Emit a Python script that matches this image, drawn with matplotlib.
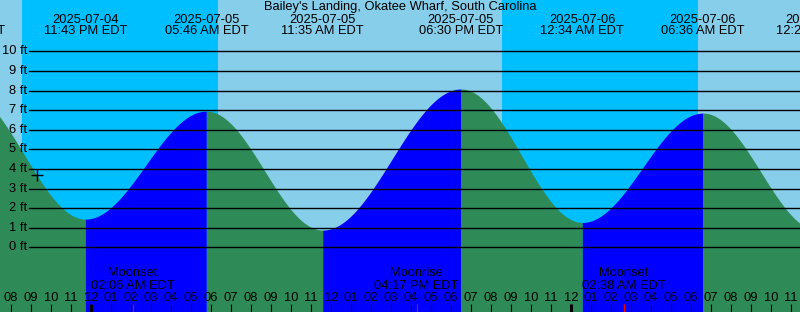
import numpy as np
import pandas as pd
import matplotlib
matplotlib.use("Agg")
import matplotlib.pyplot as plt
import matplotlib.transforms as mtransforms

plt.rcParams['font.family'] = ['Liberation Sans', 'DejaVu Sans']
FS = 9.3

title = "Bailey's Landing, Okatee Wharf, South Carolina"

# tide extremes (local time, EDT) and heights in ft
tide_times = ["2025-07-04 17:37", "2025-07-04 23:43", "2025-07-05 05:46",
              "2025-07-05 11:35", "2025-07-05 18:30", "2025-07-06 00:34",
              "2025-07-06 06:36", "2025-07-06 12:22"]
tide_heights = [8.0, 1.44, 6.95, 0.88, 8.08, 1.27, 6.85, 0.86]

# night periods (sunset, sunrise)
sunsets = ["2025-07-04 20:33", "2025-07-05 20:33"]
sunrises = ["2025-07-05 06:21", "2025-07-06 06:21"]

moon_names = ["Moonset", "Moonrise", "Moonset"]
moon_times = ["2025-07-05 02:06", "2025-07-05 16:17", "2025-07-06 02:38"]

now_time = "2025-07-04 21:18"

ft_levels = list(range(0, 11))

day_color = "#87CEEB"
night_color = "#00BFFF"
flood_color = "#0000FF"
ebb_color = "#2E8B57"

t0 = pd.Timestamp("2025-07-05 00:00")


def hours(s):
    return (pd.Timestamp(s) - t0) / pd.Timedelta(hours=1)


th = np.array([hours(s) for s in tide_times])
hh = np.array(tide_heights)


def tide(t):
    t = np.atleast_1d(t)
    i = np.clip(np.searchsorted(th, t) - 1, 0, len(th) - 2)
    f = (t - th[i]) / (th[i + 1] - th[i])
    return hh[i] + (hh[i + 1] - hh[i]) * (1 - np.cos(np.pi * f)) / 2


xmin, xmax = -4.55, 35.45
ymin, ymax = -3.30, 12.62

fig = plt.figure(figsize=(8, 3.12), dpi=100)
ax = fig.add_axes([0, 0, 1, 1])
ax.set_xlim(xmin, xmax)
ax.set_ylim(ymin, ymax)
ax.axis('off')
ax.axvspan(xmin, xmax, color=day_color, zorder=0)
for s, r in zip(sunsets, sunrises):
    ax.axvspan(hours(s), hours(r), color=night_color, lw=0, zorder=0)

# tide fill, blue while rising, green while falling
for i in range(len(th) - 1):
    t = np.linspace(th[i], th[i + 1], 300)
    c = flood_color if hh[i + 1] > hh[i] else ebb_color
    ax.fill_between(t, tide(t), ymin, color=c, lw=0, zorder=1)

# level lines
yt = mtransforms.blended_transform_factory(ax.transAxes, ax.transData)
for lv in ft_levels:
    ax.axhline(lv, xmin=29 / 800, xmax=1, color='black', lw=1.0, zorder=2)
    ax.text(0.034, lv, f"{lv} ft", transform=yt, ha='right', va='center', fontsize=FS, zorder=3)

xt = ax.get_xaxis_transform()

# tide event labels
for s in tide_times:
    ts = pd.Timestamp(s)
    x = hours(s)
    ax.text(x, 0.937, ts.strftime("%Y-%m-%d"), transform=xt, ha='center', va='center', fontsize=FS, zorder=3)
    ax.text(x, 0.901, ts.strftime("%I:%M %p EDT"), transform=xt, ha='center', va='center', fontsize=FS, zorder=3)

ax.text(0.5, 0.978, title, transform=ax.transAxes, ha='center', va='center', fontsize=FS, zorder=3)

# hour ticks
for h in range(int(np.ceil(xmin)), int(np.floor(xmax)) + 1):
    lab = f"{(h % 12) or 12:02d}"
    ax.text(h, 0.046, lab, transform=xt, ha='center', va='center', fontsize=FS, zorder=3)
    lw = 2.2 if h % 24 == 0 else 0.8
    ax.plot([h, h], [0, 0.026], transform=xt, color='black', lw=lw, solid_capstyle='butt', zorder=3)

# moon events
for name, s in zip(moon_names, moon_times):
    x = hours(s)
    ts = pd.Timestamp(s)
    ax.plot([x, x], [0, 0.026], transform=xt, color='red', lw=0.8, solid_capstyle='butt', zorder=4)
    ax.text(x, 0.124, name, transform=xt, ha='center', va='center', fontsize=FS, zorder=3)
    ax.text(x, 0.084, ts.strftime("%I:%M %p EDT"), transform=xt, ha='center', va='center', fontsize=FS, zorder=3)

# current time mark
nt = hours(now_time)
ax.plot([nt], tide(nt), marker='+', color='black', ms=8, mew=1.0, zorder=4)

fig.savefig("out.png", dpi=100)
